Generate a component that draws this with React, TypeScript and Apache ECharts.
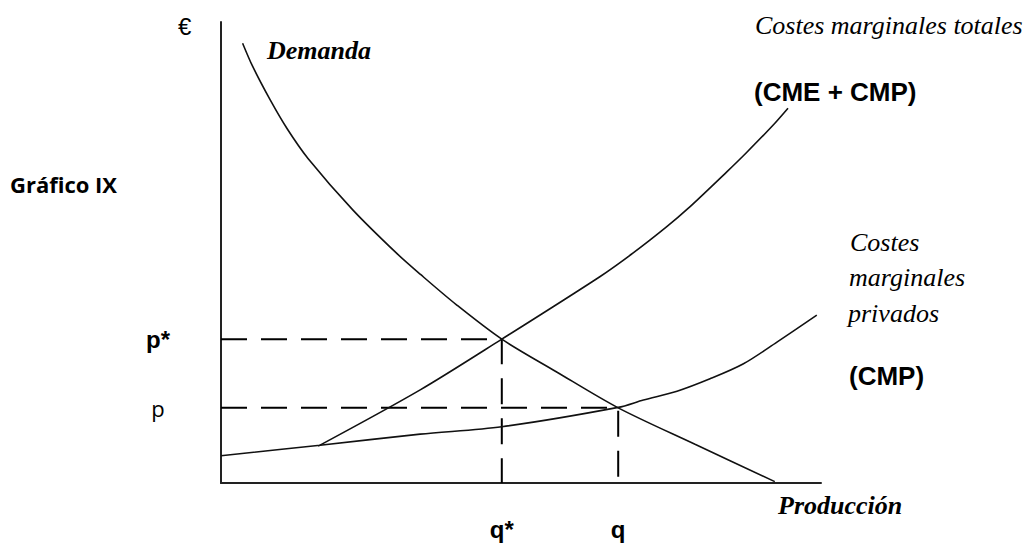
import React, { useEffect, useRef } from "react";
import * as echarts from "echarts";

// Equilibrium values (quantity 0-100, price 0-100)
const qStar = 46.8;
const pStar = 31.2;
const qPriv = 66.2;
const pPriv = 16.3;

// Demand curve
const demandX = [3.6, 5.3, 8.2, 11.0, 14.5, 22.0, 29.3, 33.2, 39.3, 46.8, 55.8, 66.2, 79.0, 92.3];
const demandY = [95.4, 90.3, 83.1, 76.9, 70.4, 59.2, 49.8, 45.3, 38.6, 31.2, 24.2, 16.3, 8.4, 0.3];

// Private marginal cost (CMP)
const cmpX = [0, 16.5, 33.2, 46.8, 66.2, 70.4, 76.0, 81.5, 87.0, 92.6, 99.3];
const cmpY = [5.9, 8.2, 10.6, 12.2, 16.4, 18.0, 19.9, 22.6, 25.8, 30.5, 36.4];

// Total marginal cost (CME + CMP)
const cmeX = [16.2, 33.2, 46.8, 63.2, 68.7, 74.3, 77.8, 84.3, 87.6, 92.0, 94.5];
const cmeY = [8.0, 20.2, 31.2, 44.8, 49.9, 55.6, 59.5, 67.5, 71.7, 77.6, 81.3];

const yTicks = [pPriv, pStar];
const yTickLabels = ["{r|p}", "{b|p*}"];
const xTicks = [qStar, qPriv];
const xTickLabels = ["{b|q*}", "{b|q}"];

const pair = (xs: number[], ys: number[]) => xs.map((x, i) => [x, ys[i]]);

export default function App() {
  const ref = useRef<HTMLDivElement>(null);
  useEffect(() => {
    if (!ref.current) return;
    const chart = echarts.init(ref.current, null, { renderer: "svg" });
    const serifI = "'Liberation Serif', 'Times New Roman', serif";
    const sans = "'Liberation Sans', Arial, sans-serif";
    const curve = { color: "#111", width: 1.6 };
    const dash = { color: "#000", width: 2, type: [26, 14] as any };
    chart.setOption({
      animation: false,
      backgroundColor: "#fff",
      grid: { left: 221, top: 22, right: 211, bottom: 62, containLabel: false },
      xAxis: {
        type: "value",
        min: 0,
        max: 100,
        axisLine: { show: true, onZero: false, lineStyle: { color: "#222", width: 2 } },
        axisTick: { show: false },
        splitLine: { show: false },
        axisLabel: {
          customValues: xTicks,
          margin: 34,
          formatter: (v: number) => xTickLabels[xTicks.indexOf(v)] ?? "",
          rich: {
            b: { fontFamily: sans, fontWeight: "bold", fontSize: 24, color: "#000" },
          },
        },
      },
      yAxis: {
        type: "value",
        min: 0,
        max: 100,
        axisLine: { show: true, onZero: false, lineStyle: { color: "#222", width: 2 } },
        axisTick: { show: false },
        splitLine: { show: false },
        axisLabel: {
          customValues: yTicks,
          margin: 63,
          align: "center",
          formatter: (v: number) => yTickLabels[yTicks.indexOf(v)] ?? "",
          rich: {
            b: { fontFamily: sans, fontWeight: "bold", fontSize: 24, color: "#000" },
            r: { fontFamily: "'Open Sans', sans-serif", fontSize: 22, color: "#000" },
          },
        },
      },
      series: [
        {
          name: "Demanda",
          type: "line",
          data: pair(demandX, demandY),
          smooth: 0.3,
          symbol: "none",
          lineStyle: curve,
          z: 3,
        },
        {
          name: "CMP",
          type: "line",
          data: pair(cmpX, cmpY),
          smooth: 0.3,
          symbol: "none",
          lineStyle: curve,
          z: 3,
        },
        {
          name: "CME + CMP",
          type: "line",
          data: pair(cmeX, cmeY),
          smooth: 0.3,
          symbol: "none",
          lineStyle: curve,
          z: 3,
        },
        {
          name: "guia-star",
          type: "line",
          data: [[0, pStar], [qStar, pStar], [qStar, 0]],
          symbol: "none",
          lineStyle: dash,
          z: 2,
        },
        {
          name: "guia-priv",
          type: "line",
          data: [[0, pPriv], [qPriv, pPriv], [qPriv, 0]],
          symbol: "none",
          lineStyle: dash,
          z: 2,
        },
      ],
      graphic: [
        { type: "text", x: 178, y: 26, style: { text: "€", font: `24px ${sans}`, fill: "#000", verticalAlign: "middle" } },
        { type: "text", x: 267, y: 50, style: { text: "Demanda", font: `italic bold 26px ${serifI}`, fill: "#000", verticalAlign: "middle" } },
        { type: "text", x: 10, y: 184, style: { text: "Gráfico IX", font: `bold 22px 'Open Sans', sans-serif`, fill: "#000", verticalAlign: "middle" } },
        { type: "text", x: 755, y: 25.5, style: { text: "Costes marginales totales", font: `italic 26px ${serifI}`, fill: "#000", verticalAlign: "middle" } },
        { type: "text", x: 754, y: 92, style: { text: "(CME + CMP)", font: `bold 26px ${sans}`, fill: "#000", verticalAlign: "middle" } },
        { type: "text", x: 850, y: 242, style: { text: "Costes", font: `italic 26px ${serifI}`, fill: "#000", verticalAlign: "middle" } },
        { type: "text", x: 849, y: 277.6, style: { text: "marginales", font: `italic 26px ${serifI}`, fill: "#000", verticalAlign: "middle" } },
        { type: "text", x: 848, y: 313.4, style: { text: "privados", font: `italic 26px ${serifI}`, fill: "#000", verticalAlign: "middle" } },
        { type: "text", x: 849, y: 375.6, style: { text: "(CMP)", font: `bold 26px ${sans}`, fill: "#000", verticalAlign: "middle" } },
        { type: "text", x: 778, y: 505.8, style: { text: "Producción", font: `italic bold 26px ${serifI}`, fill: "#000", verticalAlign: "middle" } },
      ],
    });
    return () => chart.dispose();
  }, []);
  return (
    <div
      ref={ref}
      style={{ position: "fixed", left: 0, top: 0, width: 1032, height: 545, background: "#fff" }}
    />
  );
}
